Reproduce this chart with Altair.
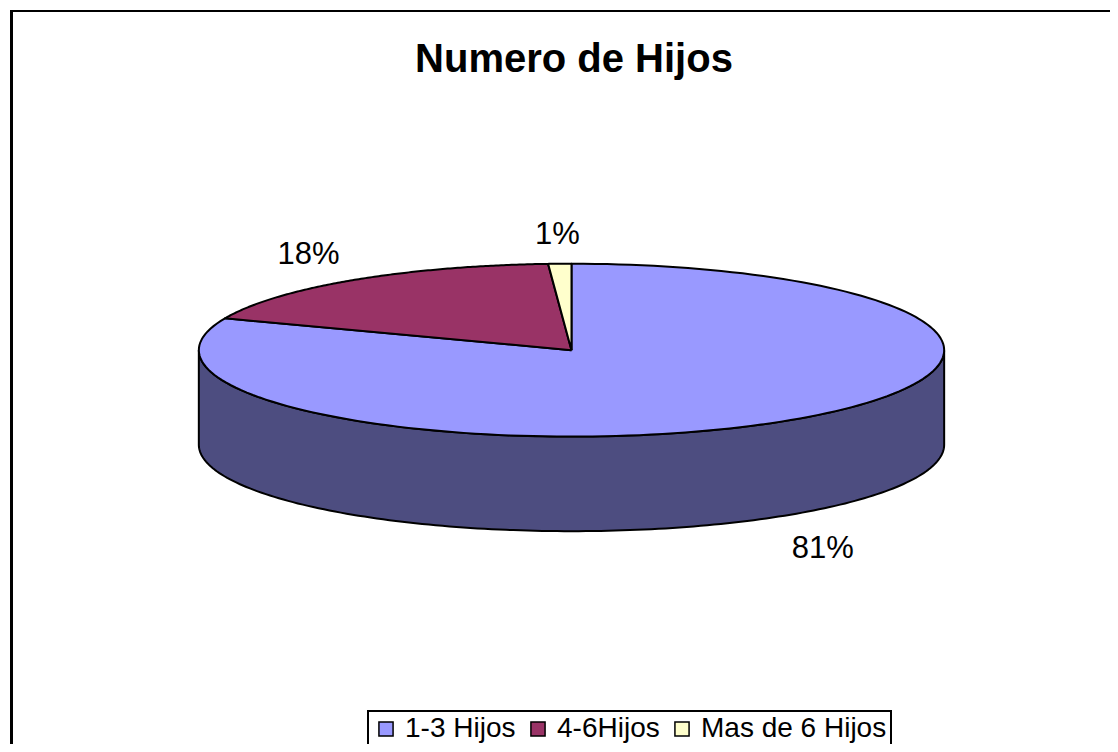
import altair as alt
import pandas as pd

# ---- data ----
categories = ["1-3 Hijos", "4-6Hijos", "Mas de 6 Hijos"]
values = [81, 18, 1]
order_idx = [0, 1, 2]
top_colors = ["#9999FF", "#993366", "#FFFFCC"]
side_colors = ["#4D4D80", "#4D1A33", "#80806A"]
TITLE = "Numero de Hijos"

# ---- geometry / style settings ----
TILT = 0.233     # ellipse vertical / horizontal ratio
DEPTH = 0.255    # thickness of the 3D pie
N = 160          # arc resolution
FONT = "Liberation Sans"

df = pd.DataFrame({"cat": categories, "value": values, "k": order_idx})

xscale = alt.Scale(domain=[-1.5067, 1.445], nice=False, zero=False)
yscale = alt.Scale(domain=[-1.0563, 0.9169], nice=False, zero=False)

base = (
    alt.Chart(df)
    .transform_window(cum="sum(value)", sort=[alt.SortField("k")], frame=[None, 0])
    .transform_joinaggregate(total="sum(value)")
    .transform_calculate(
        a0="2*PI*(datum.cum - datum.value)/datum.total",
        a1="2*PI*datum.cum/datum.total",
    )
)

# side wall (front half only) as closed polygon: top arc forward, bottom arc back
wall = (
    base.transform_calculate(w0="max(datum.a0, PI/2)", w1="min(datum.a1, 3*PI/2)")
    .transform_filter("datum.w0 < datum.w1")
    .transform_calculate(steps=f"sequence(0, {2 * N + 3})")
    .transform_flatten(["steps"], as_=["i"])
    .transform_calculate(
        j=f"datum.i <= {N} ? datum.i : (datum.i <= {2 * N + 1} ? {2 * N + 1} - datum.i : 0)",
        low=f"datum.i > {N} && datum.i <= {2 * N + 1}",
    )
    .transform_calculate(ang=f"datum.w0 + (datum.w1 - datum.w0)*datum.j/{N}")
    .transform_calculate(
        px="sin(datum.ang)",
        py=f"cos(datum.ang)*{TILT} - (datum.low ? {DEPTH} : 0)",
    )
    .mark_line(stroke="black", strokeWidth=2, strokeJoin="round")
    .encode(
        x=alt.X("px:Q", scale=xscale, axis=None),
        y=alt.Y("py:Q", scale=yscale, axis=None),
        fill=alt.Fill("cat:N", scale=alt.Scale(domain=categories, range=side_colors), legend=None),
        detail="cat:N",
        order="i:Q",
    )
)

# top face slices
slices = (
    base.transform_calculate(steps=f"sequence(0, {N + 3})")
    .transform_flatten(["steps"], as_=["i"])
    .transform_calculate(
        t=f"clamp((datum.i - 1)/{N}, 0, 1)",
        cen=f"datum.i == 0 || datum.i == {N + 2}",
    )
    .transform_calculate(ang="datum.a0 + (datum.a1 - datum.a0)*datum.t")
    .transform_calculate(
        px="datum.cen ? 0 : sin(datum.ang)",
        py=f"datum.cen ? 0 : cos(datum.ang)*{TILT}",
    )
    .mark_line(stroke="black", strokeWidth=2, strokeJoin="round")
    .encode(
        x=alt.X("px:Q", scale=xscale, axis=None),
        y=alt.Y("py:Q", scale=yscale, axis=None),
        fill=alt.Fill(
            "cat:N",
            scale=alt.Scale(domain=categories, range=top_colors),
            sort=categories,
            legend=alt.Legend(
                title=None,
                orient="none",
                legendX=358,
                legendY=701,
                direction="horizontal",
                columns=3,
                symbolType="square",
                symbolSize=200,
                symbolStrokeColor="black",
                symbolStrokeWidth=1.5,
                symbolOpacity=1,
                labelFont=FONT,
                labelFontSize=28,
                labelColor="black",
                labelLimit=500,
                labelOffset=5,
                columnPadding=8,
                padding=4,
                fillColor="white",
                strokeColor="black",
            ),
        ),
        detail="cat:N",
        order="i:Q",
    )
)

# percentage labels
labels = (
    base.transform_calculate(
        mid="(datum.a0 + datum.a1)/2",
        lab="format(datum.value/datum.total, '.0%')",
    )
    .transform_calculate(
        lx="1.2*sin(datum.mid)",
        ly=f"1.2*{TILT}*cos(datum.mid) + (cos(datum.mid) > 0 ? 0.03 : -{DEPTH} - 0.05)",
    )
    .mark_text(font=FONT, fontSize=31, color="black", baseline="middle", align="center")
    .encode(
        x=alt.X("lx:Q", scale=xscale, axis=None),
        y=alt.Y("ly:Q", scale=yscale, axis=None),
        text="lab:N",
    )
)

title = (
    alt.Chart(pd.DataFrame({"t": [TITLE]}))
    .mark_text(font=FONT, fontSize=40, fontWeight="bold", color="black", baseline="middle", align="center")
    .encode(text="t:N", x=alt.value(564), y=alt.value(50))
)

left_border = (
    alt.Chart(pd.DataFrame({"a": [0]}))
    .mark_rule(color="black", strokeWidth=3)
    .encode(x=alt.value(1.5), y=alt.value(0), y2=alt.value(736))
)
top_border = (
    alt.Chart(pd.DataFrame({"a": [0]}))
    .mark_rule(color="black", strokeWidth=2)
    .encode(y=alt.value(1), x=alt.value(0), x2=alt.value(1101))
)

chart = (
    alt.layer(wall, slices, labels, title, left_border, top_border)
    .resolve_scale(fill="independent")
    .properties(
        width=1102,
        height=736,
        background="white",
        padding={"left": 1, "top": 0, "right": 0, "bottom": 0},
        autosize=alt.AutoSizeParams(type="fit", contains="padding"),
    )
    .configure_view(fill="white", stroke=None)
    .configure_legend(strokeWidth=2)
)

chart.save("out.html", embed_options={"renderer": "svg", "actions": False})
